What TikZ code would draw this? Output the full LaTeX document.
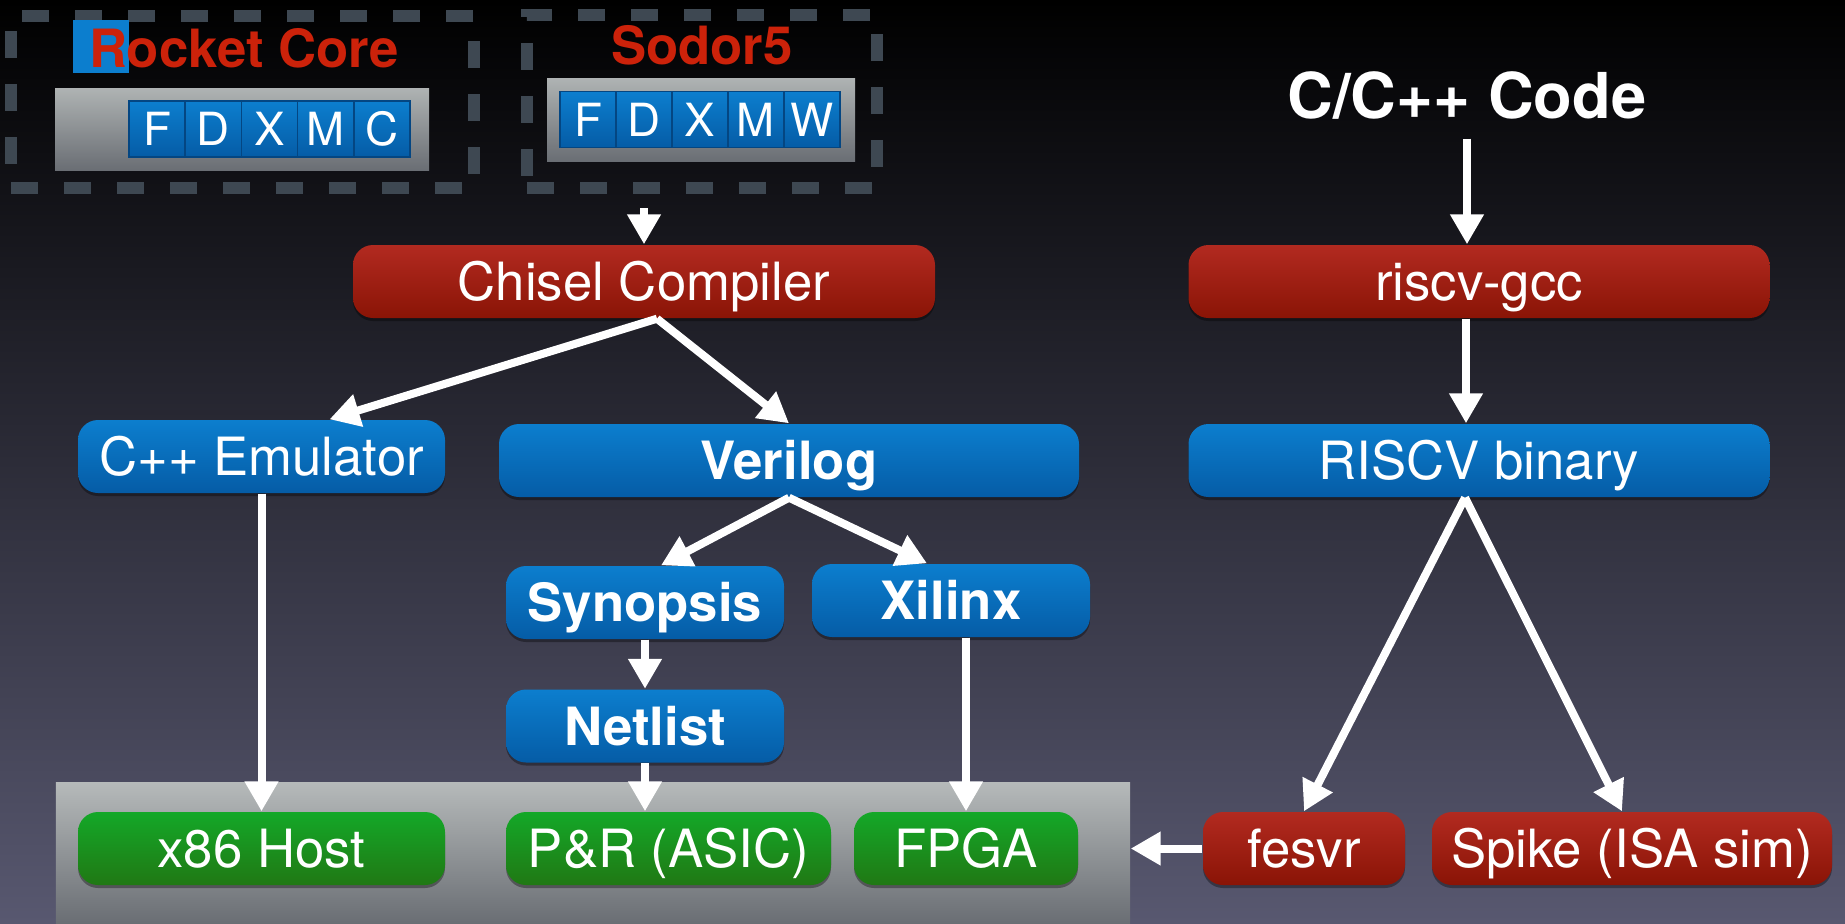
\documentclass[tikz,border=0pt]{standalone}
\usepackage{fontspec}
\setmainfont{TeX Gyre Heros}
\usetikzlibrary{positioning,shadows,arrows.meta}

\definecolor{bluetop}{RGB}{12,126,206}
\definecolor{bluebot}{RGB}{5,92,166}
\definecolor{redtop}{RGB}{178,42,32}
\definecolor{redbot}{RGB}{138,20,6}
\definecolor{greentop}{RGB}{20,168,40}
\definecolor{greenbot}{RGB}{32,120,20}
\definecolor{bgmid}{RGB}{26,26,58}
\definecolor{bgbot}{RGB}{88,88,112}
\definecolor{traytop}{RGB}{182,186,186}
\definecolor{traybot}{RGB}{106,110,116}
\definecolor{dashgray}{RGB}{62,72,82}
\definecolor{titlered}{RGB}{204,34,10}
\definecolor{stageline}{RGB}{4,70,130}

\begin{document}
\begin{tikzpicture}[
    box/.style={rounded corners=0.2cm,minimum height=0.73cm,inner sep=0pt,text=white,
      text height=0.38cm,text depth=0cm,font=\fontsize{15}{18}\selectfont,
      drop shadow={shadow xshift=0pt,shadow yshift=-0.03cm,opacity=0.35,fill=black}},
    red node/.style={box,top color=redtop,bottom color=redbot},
    blue node/.style={box,top color=bluetop,bottom color=bluebot},
    green node/.style={box,top color=greentop,bottom color=greenbot},
    strong/.style={font=\fontsize{15}{18}\selectfont\bfseries},
    stage node/.style={top color=bluetop,bottom color=bluebot,draw=stageline,line width=0.4pt,
      minimum width=0.56cm,minimum height=0.56cm,inner sep=0pt,text=white,
      text height=0.33cm,text depth=0cm,font=\fontsize{13}{15}\selectfont},
    core box/.style={top color=traytop!110,bottom color=traybot,inner sep=0pt},
    dash box/.style={draw=dashgray,line width=0.12cm,dash pattern=on 0.27cm off 0.26cm,inner sep=0pt},
    title/.style={text=titlered,inner sep=0pt,text height=0.38cm,text depth=0cm,
      font=\fontsize{15}{18}\selectfont\bfseries},
    flow/.style={white,line width=0.08cm,-{Triangle[width=0.32cm,length=0.3cm]}}
  ]
  \useasboundingbox (0,0) rectangle (18.45,-9.23);
  \shade[top color=black,middle color=bgmid,bottom color=bgbot] (0,0) rectangle (18.45,-9.23);

  % cores
  \node[dash box,minimum width=4.63cm,minimum height=1.72cm] (rocket) at (2.425,-1.02) {};
  \node[dash box,minimum width=3.50cm,minimum height=1.73cm] (sodor) at (7.02,-1.015) {};
  \node[fill=bluetop,minimum width=0.56cm,minimum height=0.53cm,inner sep=0pt] (rmark) at (1.01,-0.465) {};
  \node[title] (rockettitle) at (2.44,-0.485) {Rocket Core};
  \node[title] (sodortitle) at (7.02,-0.45) {Sodor5};
  \node[core box,minimum width=3.74cm,minimum height=0.82cm] (rocketbg) at (2.42,-1.29) {};
  \node[core box,minimum width=3.08cm,minimum height=0.83cm] (sodorbg) at (7.01,-1.195) {};

  \node[stage node] (rf) at (1.571,-1.29) {F};
  \node[stage node] (rd) at (2.133,-1.29) {D};
  \node[stage node] (rx) at (2.695,-1.29) {X};
  \node[stage node] (rm) at (3.257,-1.29) {M};
  \node[stage node] (rc) at (3.819,-1.29) {C};
  \node[stage node] (sf) at (5.88,-1.195) {F};
  \node[stage node] (sd) at (6.44,-1.195) {D};
  \node[stage node] (sx) at (7.00,-1.195) {X};
  \node[stage node] (sm) at (7.56,-1.195) {M};
  \node[stage node] (sw) at (8.12,-1.195) {W};

  % hardware flow
  \node[red node,minimum width=5.82cm] (chisel) at (6.44,-2.815) {Chisel Compiler};
  \node[blue node,minimum width=3.67cm] (emu) at (2.615,-4.565) {C++ Emulator};
  \node[blue node,strong,minimum width=5.80cm] (verilog) at (7.89,-4.605) {Verilog};
  \node[blue node,strong,minimum width=2.78cm] (synopsis) at (6.45,-6.025) {Synopsis};
  \node[blue node,strong,minimum width=2.78cm] (xilinx) at (9.51,-6.005) {Xilinx};
  \node[blue node,strong,minimum width=2.78cm] (netlist) at (6.45,-7.26) {Netlist};

  % targets
  \node[core box,top color=traytop,minimum width=10.74cm,minimum height=1.41cm] (board) at (5.93,-8.525) {};
  \node[green node,minimum width=3.67cm] (x86) at (2.615,-8.485) {x86 Host};
  \node[green node,minimum width=3.25cm] (pnr) at (6.685,-8.485) {P\&R (ASIC)};
  \node[green node,minimum width=2.24cm] (fpga) at (9.66,-8.485) {FPGA};

  % software flow
  \node[text=white,inner sep=0pt,text height=0.47cm,text depth=0cm,
    font=\fontsize{18}{22}\selectfont\bfseries] (code) at (14.67,-0.945) {C/C++ Code};
  \node[red node,minimum width=5.81cm] (gcc) at (14.79,-2.815) {riscv-gcc};
  \node[blue node,minimum width=5.81cm] (riscvbin) at (14.79,-4.605) {RISCV binary};
  \node[red node,minimum width=2.02cm] (fesvr) at (13.04,-8.485) {fesvr};
  \node[red node,minimum width=4.00cm] (spike) at (16.32,-8.485) {Spike (ISA sim)};

  \path[flow]
    (chisel.north |- sodor.south) edge[shorten <=0.14cm] (chisel.north)
    ([xshift=0.13cm]chisel.south) edge ([xshift=0.68cm]emu.north)
    ([xshift=0.13cm]chisel.south) edge (verilog.north)
    (verilog.south) edge ([xshift=0.16cm]synopsis.north)
    (verilog.south) edge ([xshift=-0.24cm]xilinx.north)
    (synopsis.south) edge (netlist.north)
    (netlist.south) edge (netlist.south |- pnr.north)
    (emu.south) edge (x86.north)
    (fpga.north |- xilinx.south) edge (fpga.north)
    (code.south) edge[shorten <=0.2cm] (code.south |- gcc.north)
    ([xshift=-0.13cm]gcc.south) edge ([xshift=-0.13cm]riscvbin.north)
    ([xshift=-0.14cm]riscvbin.south) edge (fesvr.north)
    ([xshift=-0.14cm]riscvbin.south) edge ([xshift=-0.1cm]spike.north)
    (fesvr.west) edge (board.east |- fesvr.west);
\end{tikzpicture}
\end{document}
